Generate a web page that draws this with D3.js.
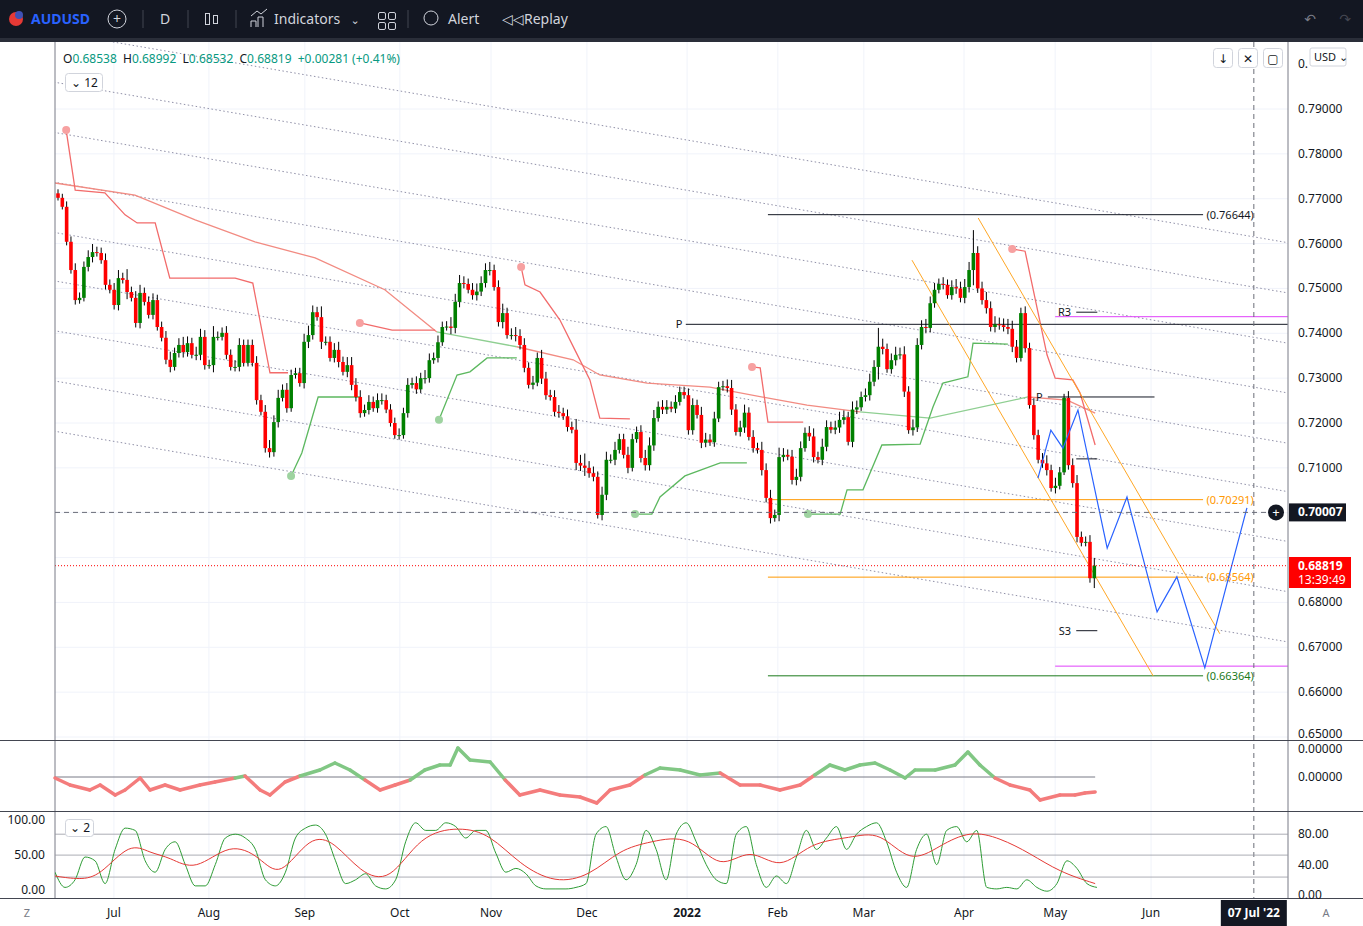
<!DOCTYPE html>
<html lang="en">
<head>
<meta charset="utf-8">
<title>AUDUSD D</title>
<script src="https://d3js.org/d3.v7.min.js"></script>
<style>
  body { margin: 0; background: #fff; font-family: "Noto Sans", "DejaVu Sans", sans-serif; }
  svg text { font-family: "Noto Sans", "DejaVu Sans", sans-serif; }
</style>
</head>
<body>
<script>
// ---- data ----
// daily closes (x 1e-4), Jun 2021 .. 13 May 2022
var closes = [
  7702,7682,7604,7541,7474,7479,7548,7570,7581,7579,
  7563,7508,7497,7463,7523,7519,7492,7479,7423,7490,
  7470,7441,7474,7414,7390,7341,7325,7356,7374,7358,
  7378,7352,7352,7392,7329,7329,7392,7392,7401,7352,
  7325,7325,7374,7334,7374,7334,7251,7225,7144,7135,
  7202,7256,7274,7233,7307,7311,7289,7381,7396,7447,
  7436,7381,7381,7345,7363,7336,7314,7329,7285,7258,
  7222,7229,7247,7233,7251,7251,7230,7200,
  7173,7173,7222,7285,7289,7275,7300,7300,7340,7345,
  7380,7414,7415,7412,7470,7512,7510,7497,7485,7493,
  7512,7541,7541,7503,7425,7445,7396,7396,7394,7374,
  7323,7285,7290,7345,7299,7262,7258,7225,7222,7215,
  7191,7185,7111,7105,7100,7088,7080,6995,7040,7118,
  7118,7140,7164,7129,7100,7164,7180,7122,7106,7150,
  7211,7236,7230,7236,7232,7247,7269,7262,7184,7240,
  7218,7156,7163,7157,
  7210,7280,7282,7278,7230,7180,7190,7223,7169,7144,
  7140,7095,7033,6988,6995,7124,7129,7125,7073,7080,
  7144,7178,7170,7124,7118,7147,7191,7185,7190,7207,
  7213,7158,7230,7235,7258,7262,7292,7325,7370,7365,
  7320,7340,7352,7353,7270,7184,7190,7374,7414,7412,
  7467,7497,7510,7508,7485,7503,7500,7479,7503,7541,
  7579,7500,7474,7456,7414,7420,7418,7414,7410,7370,
  7345,7445,7367,7240,7173,7118,7110,7095,7055,7060,
  7090,7256,7106,7066,6946,6933,6935,6854,6882
];
// wick length beyond the body (x 1e-4)
var wicks = [
  15,15,20,20,25,20,20,25,30,20,
  20,25,20,25,30,20,40,20,25,30,
  20,20,25,20,20,25,30,20,25,30,
  25,20,30,30,25,20,40,20,20,25,
  20,25,25,20,20,20,25,20,25,30,
  25,30,20,25,20,20,20,30,35,25,
  20,40,20,20,25,30,20,30,30,25,
  25,20,25,20,25,25,20,20,
  20,25,20,25,20,25,20,30,25,20,
  25,20,20,35,30,30,25,20,25,30,
  25,25,30,20,25,35,20,25,30,25,
  25,20,25,20,30,25,20,25,25,20,
  25,20,40,30,45,25,25,20,30,30,
  20,30,20,20,30,20,20,25,30,30,
  30,20,25,25,20,25,20,20,25,25,
  20,30,25,20,
  25,20,20,25,30,20,25,30,20,25,
  20,30,25,30,20,35,25,20,25,30,
  25,20,25,30,20,30,25,20,25,30,
  25,20,30,25,20,25,30,25,70,30,
  20,25,30,25,30,20,30,25,25,30,
  25,25,20,25,20,25,30,25,30,30,
  85,25,25,30,25,30,25,25,30,30,
  25,20,25,20,25,20,25,30,20,30,
  20,15,25,25,30,20,20,25,20
];

var monthLabels = ["Jul","Aug","Sep","Oct","Nov","Dec","2022","Feb","Mar","Apr","May","Jun"];
var monthBars   = [13.0,35.1,57.4,79.5,100.7,123.0,146.3,167.4,187.4,210.7,231.9,254.2];
var priceTicks  = [0.79,0.78,0.77,0.76,0.75,0.74,0.73,0.72,0.71,0.70,0.69,0.68,0.67,0.66,0.65];

// trailing stop steps [bar, price], red above / green below
var stopRed = [
  [[1.9,0.7853],[4.0,0.7719],[10.9,0.7713],[15.6,0.7664],[18.4,0.7646],[22.6,0.7646],[26.0,0.7523],[41.2,0.7523],[45.3,0.7512],[49.3,0.7312],[53.5,0.7312]],
  [[70.2,0.7423],[77.7,0.7407],[87.7,0.7407]],
  [[107.7,0.7548],[108.6,0.7508],[112.1,0.7492],[116.7,0.7430],[120.2,0.7363],[123.7,0.7296],[126.0,0.7211],[133.0,0.7209]],
  [[161.4,0.7325],[163.3,0.7323],[165.1,0.7202],[173.3,0.7202]],
  [[221.9,0.7588],[224.9,0.7583],[230.0,0.7352],[231.9,0.7300],[236.0,0.7296],[237.7,0.7267],[241.2,0.7151]]
];
var stopGreen = [
  [[54.2,0.7082],[56.7,0.7133],[60.5,0.7258],[70.2,0.7258]],
  [[88.6,0.7207],[92.8,0.7307],[95.8,0.7314],[99.8,0.7345],[106.7,0.7345]],
  [[134.2,0.6997],[138.1,0.6997],[140.0,0.7035],[145.8,0.7082],[154.0,0.7111],[160.2,0.7111]],
  [[174.4,0.6997],[181.9,0.6997],[183.5,0.7051],[187.2,0.7051],[191.6,0.7151],[200.5,0.7153],[203.5,0.7236],[205.8,0.7289],[211.6,0.7303],[212.8,0.7378],[220.9,0.7376]]
];
// long moving average, coloured pieces
var maRed1  = [[-0.7,0.7735],[17.9,0.7708],[31.9,0.7653],[45.8,0.7604],[59.8,0.7568],[76.0,0.7497],[88.1,0.7403]];
var maGreen1 = [[88.1,0.7403],[106.7,0.7370]];
var maRed2  = [[106.7,0.7370],[119.8,0.7341],[126.0,0.7307],[137.0,0.7289],[151.6,0.7280],[164.9,0.7256],[174.2,0.7240],[186.5,0.7225]];
var maGreen2 = [[186.5,0.7225],[202.8,0.7211],[225.6,0.7258]];
var maRed3  = [[225.6,0.7258],[234.7,0.7251],[241.2,0.7222]];

// dotted regression channel: price at bar -1, drop to bar 286
var channelLeft = [0.8072,0.7960,0.7848,0.7737,0.7625,0.7517,0.7406,0.7294,0.7182];
var channelDrop = 0.047;
var orangeLines = [[[198.6,0.7563],[254.7,0.6636]], [[214.0,0.7657],[270.2,0.6730]]];
var projection  = [[227.9,0.7077],[230.9,0.7184],[233.7,0.7144],[237.2,0.7229],[244.0,0.6921],[248.6,0.7035],[255.6,0.6779],[260.2,0.6857],[266.7,0.6654],[276.5,0.7011]];

// pane 1 oscillator [bar, value x 1e-4]
var osc = [[-0.7,-1],[2.8,-8],[7.4,-13],[9.8,-8],[13.3,-18],[15.6,-13],[19.1,-1],[21.4,-13],[24.9,-8],[28.4,-13],[33,-8],[36.5,-5],[41.2,-1],[43.5,1],[47,-13],[49.3,-18],[52.8,-5],[56.3,1],[60.9,7],[64.4,14],[67.9,7],[71.4,-3],[74.9,-13],[78.4,-8],[81.9,-3],[85.3,7],[88.8,12],[91.2,12],[93,29],[95.8,17],[100.5,15],[104,-3],[107.4,-18],[112.1,-13],[116.7,-18],[121.4,-20],[125.3,-26],[128.4,-13],[133,-8],[136.5,2],[140,9],[144.7,7],[149.3,2],[154,4],[158.6,-8],[163.3,-8],[167.9,-13],[172.6,-8],[176,2],[179.5,12],[183,7],[186.5,12],[190,14],[193.5,7],[197,-1],[199.3,7],[204,7],[208.6,12],[211.6,25],[214.4,12],[217.9,-1],[221.4,-8],[226,-13],[228.4,-23],[233,-18],[236.5,-18],[238.8,-16],[241.2,-15]];

// pane 2 stochastic %K, sampled every 2.33 bars from bar -0.7
var stochK = [30,10,20,50,45,15,60,88,85,45,30,60,70,40,12,12,40,75,80,75,60,20,12,30,75,88,92,80,45,15,20,28,12,8,20,70,95,85,85,95,90,75,85,85,55,30,35,28,12,8,8,8,10,15,80,90,50,20,40,85,60,20,80,95,70,40,20,15,80,90,40,10,25,15,50,85,60,75,90,60,80,90,95,70,30,10,60,80,40,85,90,70,85,10,8,10,8,20,10,5,15,45,35,15,10];
var stochD = [[-0.7,25],[5.1,20],[9.8,25],[16.7,70],[21.4,55],[26,50],[31.9,30],[40,70],[47,50],[51.6,20],[58.6,80],[64.4,70],[70.2,30],[77.2,15],[84.2,80],[93.5,90],[100.5,80],[107.4,40],[115.6,15],[123.7,25],[130.7,60],[137.7,70],[147,80],[154,30],[160.9,65],[167.9,30],[174.9,70],[184.2,75],[191.2,85],[198.1,40],[205.1,65],[212.1,85],[219.1,75],[226,55],[233,30],[241.2,15]];

// ---- layout ----
var W = 1363, H = 926;
var svg = d3.select("body").append("svg").attr("width", W).attr("height", H);

var x = d3.scaleLinear().domain([0, 286]).range([58, 58 + 286 * 4.3]);
var y = d3.scaleLinear().domain([0.65, 0.79]).range([737, 109]);
var yo = d3.scaleLinear().domain([-35, 37]).range([812, 740]);
var ys = d3.scaleLinear().domain([0, 100]).range([895, 819]);
var candleBar = d3.scaleLinear().domain([0, closes.length - 1]).range([0, 241]);
var line = d3.line().x(function(d){ return x(d[0]); }).y(function(d){ return y(d[1]); });

svg.append("clipPath").attr("id","main").append("rect").attr("x",55).attr("y",42).attr("width",1233).attr("height",698);
svg.append("clipPath").attr("id","p2").append("rect").attr("x",55).attr("y",812).attr("width",1233).attr("height",86);

// grid
var grid = svg.append("g");
priceTicks.forEach(function(p){
  grid.append("line").attr("x1",55).attr("x2",1288).attr("y1",y(p)).attr("y2",y(p)).attr("stroke","#f0f3fa");
});
monthBars.forEach(function(b){
  grid.append("line").attr("x1",x(b)).attr("x2",x(b)).attr("y1",42).attr("y2",898).attr("stroke","#f0f3fa");
});

var main = svg.append("g").attr("clip-path","url(#main)");

// dotted channel
channelLeft.forEach(function(p){
  main.append("line").attr("x1",x(-1)).attr("y1",y(p)).attr("x2",x(286)).attr("y2",y(p - channelDrop))
    .attr("stroke","#9090a8").attr("stroke-width",1).attr("stroke-dasharray","1.5,2.5");
});

// moving average
[[maRed1,"#f28b82"],[maGreen1,"#8fcf92"],[maRed2,"#f28b82"],[maGreen2,"#8fcf92"],[maRed3,"#f28b82"]].forEach(function(s){
  main.append("path").attr("d", line(s[0])).attr("fill","none").attr("stroke",s[1]).attr("stroke-width",1.3);
});

// trailing stop
stopRed.forEach(function(s){
  main.append("path").attr("d", line(s)).attr("fill","none").attr("stroke","#f26b6b").attr("stroke-width",1.3);
  main.append("circle").attr("cx",x(s[0][0])).attr("cy",y(s[0][1])).attr("r",4).attr("fill","#f7a1a1");
});
stopGreen.forEach(function(s){
  main.append("path").attr("d", line(s)).attr("fill","none").attr("stroke","#5cb85f").attr("stroke-width",1.3);
  main.append("circle").attr("cx",x(s[0][0])).attr("cy",y(s[0][1])).attr("r",4).attr("fill","#9ed3a0");
});

// horizontal levels
function hline(p, b1, b2, col, w){
  main.append("line").attr("x1",x(b1)).attr("x2",x(b2)).attr("y1",y(p)).attr("y2",y(p)).attr("stroke",col).attr("stroke-width",w||1);
}
hline(0.76644,165.1,266.3,"#131722");
hline(0.74200,146.0,286,"#131722");
hline(0.74370,231.9,286,"#e040fb");
hline(0.74470,236.8,241.7,"#131722");
hline(0.72580,230.2,255.0,"#131722");
hline(0.71200,236.8,241.7,"#131722");
hline(0.67370,236.8,241.7,"#131722");
hline(0.66580,231.9,286,"#e040fb");
hline(0.70291,165.1,266.3,"#ff9800");
hline(0.68564,165.1,266.3,"#ff9800");
hline(0.66364,165.1,266.3,"#1b7a1b");

function tlabel(t, b, p, col, anchor){
  main.append("text").attr("x",x(b)).attr("y",y(p)+4).attr("font-size",11).attr("fill",col)
    .attr("text-anchor",anchor||"start").text(t);
}
tlabel("(0.76644)",267.1,0.76644,"#131722");
tlabel("(0.70291)",267.1,0.70291,"#ff9800");
tlabel("(0.68564)",267.1,0.68564,"#ff9800");
tlabel("(0.66364)",267.1,0.66364,"#1b7a1b");
tlabel("P",145.2,0.74200,"#131722","end");
tlabel("R3",235.6,0.74470,"#131722","end");
tlabel("P",229.0,0.72580,"#131722","end");
tlabel("S3",235.6,0.67370,"#131722","end");

orangeLines.forEach(function(s){
  main.append("path").attr("d", line(s)).attr("stroke","#ffa726").attr("stroke-width",1).attr("fill","none");
});

// candles
var cg = main.append("g");
closes.forEach(function(c, i){
  var close = c / 10000;
  var open = i === 0 ? close + 0.0010 : closes[i-1] / 10000;
  if (i === closes.length - 1) open = 0.68538;
  var w = (wicks[i] || 20) / 10000;
  var hi = Math.max(open, close) + w * 0.6, lo = Math.min(open, close) - w * 0.4;
  if (i === closes.length - 1) { hi = 0.68992; lo = 0.6832; }
  var cx = x(candleBar(i));
  var col = close >= open ? "#008000" : "#ff0000";
  cg.append("line").attr("x1",cx).attr("x2",cx).attr("y1",y(hi)).attr("y2",y(lo)).attr("stroke","#000").attr("stroke-width",1);
  var top = y(Math.max(open, close)), bot = y(Math.min(open, close));
  cg.append("rect").attr("x",cx-1.8).attr("width",3.6).attr("y",top).attr("height",Math.max(1,bot-top)).attr("fill",col);
});

// blue projection
main.append("path").attr("d", line(projection)).attr("stroke","#2962ff").attr("stroke-width",1.2).attr("fill","none");

// current price + crosshair
main.append("line").attr("x1",55).attr("x2",1288).attr("y1",y(0.68819)).attr("y2",y(0.68819)).attr("stroke","#ff0000").attr("stroke-dasharray","1,2");
svg.append("line").attr("x1",55).attr("x2",1288).attr("y1",y(0.70007)).attr("y2",y(0.70007)).attr("stroke","#6a6d78").attr("stroke-dasharray","5,4");
svg.append("line").attr("x1",x(278.1)).attr("x2",x(278.1)).attr("y1",42).attr("y2",898).attr("stroke","#6a6d78").attr("stroke-dasharray","5,4");

// pane borders
svg.append("line").attr("x1",55).attr("x2",55).attr("y1",42).attr("y2",898).attr("stroke","#787b86");
svg.append("line").attr("x1",1288).attr("x2",1288).attr("y1",42).attr("y2",898).attr("stroke","#787b86");
svg.append("line").attr("x1",0).attr("x2",W).attr("y1",740.5).attr("y2",740.5).attr("stroke","#434651");
svg.append("line").attr("x1",0).attr("x2",W).attr("y1",811.5).attr("y2",811.5).attr("stroke","#434651");
svg.append("line").attr("x1",0).attr("x2",W).attr("y1",898.5).attr("y2",898.5).attr("stroke","#434651");

// right price axis (labels hidden under the value boxes are left out)
var ax = svg.append("g").attr("font-size",12).attr("fill","#131722");
priceTicks.forEach(function(p){
  if (p === 0.70 || p === 0.69) return;
  ax.append("text").attr("x",1298).attr("y",p === 0.65 ? y(p) + 1 : y(p) + 4).text(p.toFixed(5));
});
ax.append("text").attr("x",1298).attr("y",68).text("0.");
svg.append("rect").attr("x",1310).attr("y",48).attr("width",36).attr("height",18).attr("rx",2).attr("fill","#fff").attr("stroke","#d1d4dc");
svg.append("text").attr("x",1314).attr("y",61).attr("font-size",11).attr("fill","#131722").text("USD ⌄");

svg.append("rect").attr("x",1289).attr("y",y(0.70007)-9).attr("width",57).attr("height",18).attr("fill","#131722");
svg.append("text").attr("x",1298).attr("y",y(0.70007)+4).attr("font-size",12).attr("font-weight","bold").attr("fill","#fff").text("0.70007");
svg.append("circle").attr("cx",1276).attr("cy",y(0.70007)).attr("r",8).attr("fill","#131722");
svg.append("text").attr("x",1276).attr("y",y(0.70007)+4.5).attr("text-anchor","middle").attr("font-size",13).attr("fill","#fff").text("+");
svg.append("rect").attr("x",1289).attr("y",557).attr("width",62).attr("height",31).attr("fill","#ff0000");
svg.append("text").attr("x",1298).attr("y",570).attr("font-size",12).attr("font-weight","bold").attr("fill","#fff").text("0.68819");
svg.append("text").attr("x",1298).attr("y",584).attr("font-size",12).attr("fill","#fff").text("13:39:49");

// pane 1 oscillator
svg.append("line").attr("x1",55).attr("x2",x(241.2)).attr("y1",yo(0)).attr("y2",yo(0)).attr("stroke","#787b86");
for (var k = 0; k < osc.length - 1; k++) {
  var a = osc[k], b = osc[k+1];
  svg.append("line").attr("x1",x(a[0])).attr("y1",yo(a[1])).attr("x2",x(b[0])).attr("y2",yo(b[1]))
    .attr("stroke", (a[1] + b[1]) >= 0 ? "#81c784" : "#f47c7c").attr("stroke-width",3.5).attr("stroke-linecap","round");
}
ax.append("text").attr("x",1298).attr("y",yo(0)+4).text("0.00000");
ax.append("text").attr("x",1298).attr("y",753).text("0.00000");

// pane 2 stochastic
var p2 = svg.append("g").attr("clip-path","url(#p2)");
[80, 52.5, 23.6].forEach(function(v){
  p2.append("line").attr("x1",55).attr("x2",1288).attr("y1",ys(v)).attr("y2",ys(v)).attr("stroke","#9598a1").attr("stroke-width",0.8);
});
var kLine = d3.line().x(function(d,i){ return x(-0.7 + i * 2.33); }).y(function(d){ return ys(d); }).curve(d3.curveMonotoneX);
var dLine = d3.line().x(function(d){ return x(d[0]); }).y(function(d){ return ys(d[1]); }).curve(d3.curveBasis);
p2.append("path").attr("d", kLine(stochK)).attr("fill","none").attr("stroke","#2e9c35").attr("stroke-width",1);
p2.append("path").attr("d", dLine(stochD)).attr("fill","none").attr("stroke","#e53935").attr("stroke-width",1);
[[80,"80.00"],[40,"40.00"],[0,"0.00"]].forEach(function(t){
  ax.append("text").attr("x",1298).attr("y",ys(t[0])+4).text(t[1]);
});
[["100.00",824],["50.00",859],["0.00",894]].forEach(function(t){
  svg.append("text").attr("x",45).attr("y",t[1]).attr("text-anchor","end").attr("font-size",12).attr("fill","#131722").text(t[0]);
});
svg.append("rect").attr("x",65.5).attr("y",819.5).attr("width",28).attr("height",17).attr("rx",3).attr("fill","#fff").attr("stroke","#d1d4dc");
svg.append("text").attr("x",70).attr("y",832).attr("font-size",12).attr("fill","#131722").text("⌄ 2");

// time axis
monthLabels.forEach(function(m, i){
  svg.append("text").attr("x",x(monthBars[i])).attr("y",917).attr("text-anchor","middle").attr("font-size",12)
    .attr("font-weight", m === "2022" ? "bold" : "normal").attr("fill","#131722").text(m);
});
svg.append("rect").attr("x",x(278.1)-33).attr("y",900).attr("width",66).attr("height",26).attr("fill","#131722");
svg.append("text").attr("x",x(278.1)).attr("y",917).attr("text-anchor","middle").attr("font-size",12).attr("font-weight","bold").attr("fill","#fff").text("07 Jul '22");
svg.append("text").attr("x",27).attr("y",917).attr("text-anchor","middle").attr("font-size",11).attr("fill","#787b86").text("Z");
svg.append("text").attr("x",1326).attr("y",917).attr("text-anchor","middle").attr("font-size",11).attr("fill","#787b86").text("A");

// legend
var lg = svg.append("text").attr("x",63).attr("y",63).attr("font-size",12);
[["O","#131722"],["0.68538  ","#089981"],["H","#131722"],["0.68992  ","#089981"],["L","#131722"],["0.68532  ","#089981"],
 ["C","#131722"],["0.68819  +0.00281 (+0.41%)","#089981"]].forEach(function(s){
  lg.append("tspan").attr("fill",s[1]).attr("xml:space","preserve").text(s[0]);
});
svg.append("rect").attr("x",65.5).attr("y",73.5).attr("width",37).attr("height",18).attr("rx",3).attr("fill","#fff").attr("stroke","#d1d4dc");
svg.append("text").attr("x",71).attr("y",87).attr("font-size",12).attr("fill","#131722").text("⌄ 12");
[1213,1238,1263].forEach(function(bx, i){
  svg.append("rect").attr("x",bx+0.5).attr("y",48.5).attr("width",19).attr("height",19).attr("rx",3).attr("fill","#fff").attr("stroke","#d1d4dc");
  svg.append("text").attr("x",bx+10).attr("y",63).attr("text-anchor","middle").attr("font-size",12).attr("fill","#131722").text(["↓","✕","▢"][i]);
});

// toolbar
svg.append("rect").attr("x",0).attr("y",0).attr("width",W).attr("height",38).attr("fill","#131722");
svg.append("rect").attr("x",0).attr("y",38).attr("width",W).attr("height",4).attr("fill","#2a2e39");
var tb = svg.append("g").attr("font-size",14).attr("fill","#d1d4dc");
svg.append("circle").attr("cx",16).attr("cy",19).attr("r",7).attr("fill","#e53935");
svg.append("circle").attr("cx",19).attr("cy",15).attr("r",4).attr("fill","#3f51b5");
tb.append("text").attr("x",31).attr("y",24).attr("fill","#2962ff").attr("font-weight","bold").text("AUDUSD");
svg.append("circle").attr("cx",117).attr("cy",19).attr("r",9).attr("fill","none").attr("stroke","#d1d4dc");
tb.append("text").attr("x",117).attr("y",24).attr("text-anchor","middle").text("+");
tb.append("text").attr("x",165).attr("y",24).attr("text-anchor","middle").text("D");
[143,188,236,408].forEach(function(sx){
  svg.append("line").attr("x1",sx).attr("x2",sx).attr("y1",10).attr("y2",28).attr("stroke","#434651");
});
svg.append("rect").attr("x",205.5).attr("y",13.5).attr("width",4).attr("height",11).attr("fill","none").attr("stroke","#d1d4dc");
svg.append("rect").attr("x",213.5).attr("y",15.5).attr("width",4).attr("height",8).attr("fill","none").attr("stroke","#d1d4dc");
svg.append("path").attr("d","M251,27 V21 H256 V27 M258,27 V17 H263 V27 M251,16 L257,11 L261,14 L267,9").attr("fill","none").attr("stroke","#d1d4dc");
tb.append("text").attr("x",274).attr("y",24).text("Indicators");
tb.append("text").attr("x",355).attr("y",24).attr("text-anchor","middle").attr("font-size",11).text("⌄");
[[378,12],[388,12],[378,22],[388,22]].forEach(function(q){
  svg.append("rect").attr("x",q[0]+0.5).attr("y",q[1]+0.5).attr("width",7).attr("height",7).attr("rx",1.5).attr("fill","none").attr("stroke","#d1d4dc");
});
svg.append("circle").attr("cx",431).attr("cy",18).attr("r",7).attr("fill","none").attr("stroke","#d1d4dc");
tb.append("text").attr("x",448).attr("y",24).text("Alert");
tb.append("text").attr("x",502).attr("y",24).text("◁◁");
tb.append("text").attr("x",524).attr("y",24).text("Replay");
tb.append("text").attr("x",1310).attr("y",24).attr("text-anchor","middle").attr("fill","#787b86").text("↶");
tb.append("text").attr("x",1345).attr("y",24).attr("text-anchor","middle").attr("fill","#434651").text("↷");
</script>
</body>
</html>
